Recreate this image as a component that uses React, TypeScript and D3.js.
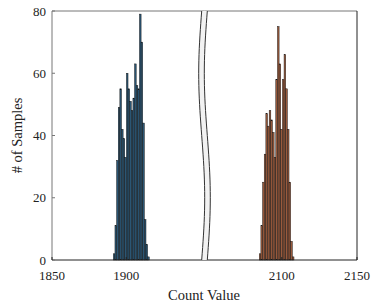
import React from "react";
import * as d3 from "d3";

// histogram counts, one per bin
const binWidth = 1.1;
const leftStart = 1891.3;
const leftCounts = [2, 11, 32, 49, 55, 42, 39, 33, 60, 55, 51, 48, 52, 63, 56, 55, 79, 70, 44, 13, 5, 1];
const rightStart = 2085;
const rightCounts = [2, 11, 25, 34, 47, 43, 48, 45, 41, 33, 58, 75, 63, 42, 58, 66, 55, 42, 25, 6, 1];

const leftTicks = [1850, 1900];
const rightTicks = [2100, 2150];
const yTicks = [0, 20, 40, 60, 80];

const W = 374;
const H = 307;
const margin = { top: 11, left: 52, right: 17, bottom: 47 };
const breakX = 204.5;
const gap = 2.8;

export default function App() {
  const y = d3.scaleLinear().domain([0, 80]).range([H - margin.bottom, margin.top]);
  const xL = d3.scaleLinear().domain([1850, 1952.7]).range([margin.left, breakX]);
  const xR = d3.scaleLinear().domain([2048.6, 2150]).range([breakX, W - margin.right]);
  const y0 = y(0);
  const yTop = y(80);

  const bars = (counts: number[], start: number, x: d3.ScaleLinear<number, number>, fill: string) =>
    counts.map((c, i) => {
      const x0 = x(start + i * binWidth);
      const x1 = x(start + (i + 1) * binWidth);
      return (
        <rect key={i} x={x0} y={y(c)} width={x1 - x0} height={y0 - y(c)} fill={fill} stroke="#111" strokeWidth={0.45} />
      );
    });

  // wavy break band
  const n = 40;
  const pts = d3.range(n + 1).map((i) => {
    const t = i / n;
    return { yy: yTop + t * (y0 - yTop), dx: -3 * Math.sin(t * 2 * Math.PI) };
  });
  const leftEdge = pts.map((p) => [breakX + p.dx - gap, p.yy] as [number, number]);
  const rightEdge = pts.map((p) => [breakX + p.dx + gap, p.yy] as [number, number]);
  const line = d3.line();
  const band = line([...leftEdge, ...rightEdge.slice().reverse()]) + "Z";

  const font = "'Liberation Serif', 'Times New Roman', serif";

  return (
    <svg width={W} height={H} style={{ position: "absolute", left: 0, top: 0 }}>
      <rect width={W} height={H} fill="#fff" />
      {bars(leftCounts, leftStart, xL, "#2b5674")}
      {bars(rightCounts, rightStart, xR, "#9a5a3c")}
      {/* frame */}
      <line x1={margin.left} x2={breakX} y1={yTop} y2={yTop} stroke="#777" strokeWidth={1} />
      <line x1={breakX} x2={W - margin.right} y1={yTop} y2={yTop} stroke="#777" strokeWidth={1} />
      <line x1={margin.left} x2={margin.left} y1={yTop} y2={y0} stroke="#777" strokeWidth={1} />
      <line x1={margin.left} x2={W - margin.right} y1={y0} y2={y0} stroke="#222" strokeWidth={1} />
      <line x1={W - margin.right} x2={W - margin.right} y1={yTop} y2={y0} stroke="#222" strokeWidth={1} />
      {yTicks.map((t) => (
        <g key={t}>
          <line x1={margin.left} x2={margin.left + 3} y1={y(t)} y2={y(t)} stroke="#777" />
          <text x={margin.left - 6} y={y(t)} dy="0.35em" textAnchor="end" fontFamily={font} fontSize={13} fill="#222">
            {t}
          </text>
        </g>
      ))}
      {leftTicks.map((t) => (
        <g key={t}>
          <line x1={xL(t)} x2={xL(t)} y1={y0} y2={y0 - 3} stroke="#222" />
          <text x={xL(t)} y={280} textAnchor="middle" fontFamily={font} fontSize={13} fill="#222">
            {t}
          </text>
        </g>
      ))}
      {rightTicks.map((t) => (
        <g key={t}>
          <line x1={xR(t)} x2={xR(t)} y1={y0} y2={y0 - 3} stroke="#222" />
          <text x={xR(t)} y={280} textAnchor="middle" fontFamily={font} fontSize={13} fill="#222">
            {t}
          </text>
        </g>
      ))}
      <path d={band} fill="#f2f2f2" stroke="none" />
      <path d={line(leftEdge) ?? ""} fill="none" stroke="#333" strokeWidth={1} />
      <path d={line(rightEdge) ?? ""} fill="none" stroke="#333" strokeWidth={1} />
      <text x={204} y={300} textAnchor="middle" fontFamily={font} fontSize={14.5} fill="#222">
        Count Value
      </text>
      <text
        transform={`translate(22, ${(yTop + y0) / 2}) rotate(-90)`}
        textAnchor="middle"
        fontFamily={font}
        fontSize={14.5}
        fill="#222"
      >
        # of Samples
      </text>
    </svg>
  );
}
